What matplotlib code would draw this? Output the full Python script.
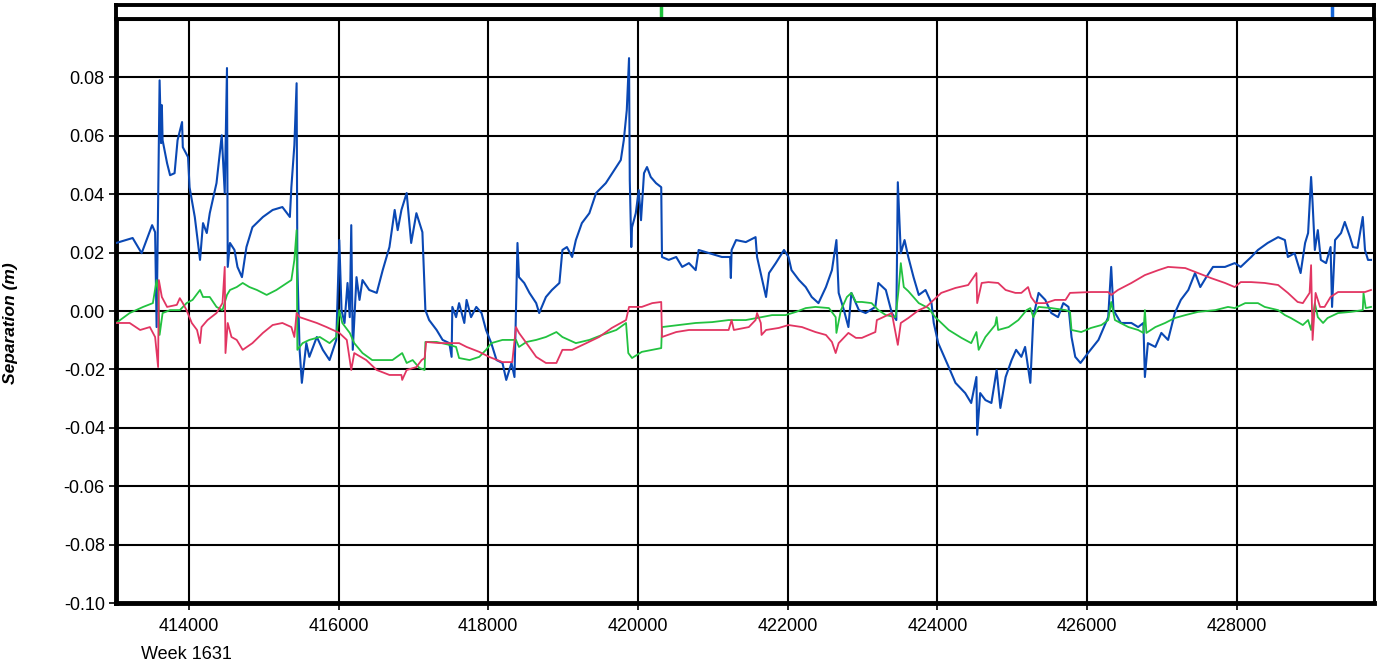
import numpy as np
import matplotlib.pyplot as plt

plt.rcParams["font.family"] = ["Liberation Sans", "DejaVu Sans"]

# seconds of GPS week 1631 and separation (m)
blue_t = [
    413030, 413250, 413370, 413510, 413550, 413570, 413610, 413630, 413640, 413650,
    413710, 413750, 413810, 413850, 413910, 413920, 413990, 414010, 414080, 414150,
    414190, 414240, 414280, 414370, 414440, 414480, 414510, 414520, 414550, 414610,
    414650, 414710, 414770, 414850, 414990, 415120, 415250, 415350, 415370, 415410,
    415440, 415450, 415480, 415510, 415570, 415610, 415710, 415790, 415880, 415970,
    416010, 416040, 416080, 416120, 416150, 416170, 416190, 416240, 416280, 416320,
    416410, 416510, 416590, 416680, 416750, 416790, 416840, 416910, 416970, 417040,
    417120, 417160, 417210, 417310, 417390, 417480, 417510, 417520, 417570, 417610,
    417680, 417710, 417770, 417840, 417910, 417970, 418040, 418110, 418190, 418240,
    418310, 418350, 418390, 418410, 418480, 418550, 418640, 418680, 418770, 418850,
    418950, 418990, 419050, 419120, 419170, 419250, 419350, 419440, 419570, 419710,
    419770, 419810, 419850, 419880, 419890, 419910, 419920, 419970, 420010, 420040,
    420080, 420120, 420170, 420240, 420310, 420320, 420410, 420510, 420590, 420680,
    420770, 420810, 420950, 421120, 421230, 421240, 421250, 421310, 421440, 421570,
    421590, 421650, 421710, 421750, 421840, 421950, 422010, 422050, 422150, 422240,
    422320, 422410, 422510, 422590, 422650, 422680, 422750, 422810, 422850, 422950,
    423040, 423170, 423210, 423310, 423390, 423450, 423470, 423510, 423560, 423610,
    423680, 423750, 423840, 423920, 423950, 424010, 424150, 424240, 424370, 424450,
    424520, 424530, 424570, 424640, 424720, 424790, 424840, 424910, 424990, 425050,
    425120, 425170, 425240, 425250, 425280, 425350, 425440, 425520, 425610, 425680,
    425750, 425790, 425840, 425910, 426010, 426150, 426280, 426320, 426350, 426450,
    426590, 426680, 426750, 426770, 426810, 426910, 426990, 427080, 427170, 427250,
    427350, 427440, 427510, 427590, 427680, 427840, 427970, 428050, 428190, 428280,
    428410, 428550, 428640, 428680, 428770, 428850, 428910, 428950, 428990, 429010,
    429040, 429080, 429120, 429190, 429250, 429270, 429310, 429390, 429440, 429510,
    429550, 429610, 429680, 429710, 429750, 429790,
]
blue_sep = [
    0.0233, 0.0250, 0.0198, 0.0294, 0.0270, -0.0055, 0.0790, 0.0575, 0.0705, 0.0585,
    0.0506, 0.0465, 0.0472, 0.0585, 0.0647, 0.0561, 0.0527, 0.0424, 0.0322, 0.0175,
    0.0301, 0.0267, 0.0335, 0.0438, 0.0602, 0.0404, 0.0832, 0.0151, 0.0233, 0.0209,
    0.0151, 0.0116, 0.0219, 0.0287, 0.0322, 0.0346, 0.0356, 0.0322, 0.0424, 0.0568,
    0.0780, 0.0151, -0.0133, -0.0246, -0.0110, -0.0157, -0.0089, -0.0133, -0.0168, -0.0099,
    0.0243, 0.0003, -0.0041, 0.0096, -0.0021, 0.0294, -0.0133, 0.0116, 0.0038, 0.0106,
    0.0072, 0.0062, 0.0140, 0.0219, 0.0346, 0.0277, 0.0346, 0.0404, 0.0233, 0.0335,
    0.0270, 0.0003, -0.0031, -0.0065, -0.0099, -0.0110, -0.0157, 0.0014, -0.0021, 0.0027,
    -0.0041, 0.0038, -0.0021, 0.0014, -0.0007, -0.0065, -0.0110, -0.0168, -0.0178, -0.0236,
    -0.0178, -0.0226, 0.0233, 0.0116, 0.0096, 0.0062, 0.0027, -0.0007, 0.0048, 0.0072,
    0.0096, 0.0209, 0.0219, 0.0185, 0.0243, 0.0301, 0.0335, 0.0404, 0.0438, 0.0493,
    0.0517, 0.0585, 0.0688, 0.0866, 0.0448, 0.0219, 0.0287, 0.0335, 0.0414, 0.0311,
    0.0472, 0.0493, 0.0459, 0.0438, 0.0424, 0.0185, 0.0175, 0.0185, 0.0151, 0.0164,
    0.0140, 0.0209, 0.0198, 0.0185, 0.0185, 0.0113, 0.0209, 0.0243, 0.0236, 0.0253,
    0.0185, 0.0116, 0.0048, 0.0130, 0.0164, 0.0209, 0.0185, 0.0140, 0.0106, 0.0082,
    0.0048, 0.0027, 0.0082, 0.0140, 0.0243, 0.0062, 0.0003, -0.0055, 0.0062, 0.0003,
    -0.0007, 0.0014, 0.0096, 0.0072, -0.0007, -0.0031, 0.0441, 0.0198, 0.0243, 0.0185,
    0.0116, 0.0055, 0.0072, 0.0027, -0.0041, -0.0110, -0.0192, -0.0246, -0.0281, -0.0315,
    -0.0226, -0.0424, -0.0281, -0.0305, -0.0315, -0.0202, -0.0332, -0.0226, -0.0168, -0.0133,
    -0.0157, -0.0123, -0.0246, -0.0192, -0.0021, 0.0062, 0.0038, -0.0007, -0.0021, 0.0027,
    0.0014, -0.0089, -0.0157, -0.0178, -0.0144, -0.0099, -0.0021, 0.0151, 0.0003, -0.0041,
    -0.0041, -0.0055, -0.0041, -0.0226, -0.0110, -0.0123, -0.0075, -0.0099, -0.0007, 0.0038,
    0.0072, 0.0130, 0.0082, 0.0116, 0.0151, 0.0151, 0.0164, 0.0151, 0.0185, 0.0209,
    0.0233, 0.0253, 0.0243, 0.0185, 0.0198, 0.0130, 0.0233, 0.0267, 0.0459, 0.0370,
    0.0209, 0.0277, 0.0175, 0.0164, 0.0219, 0.0014, 0.0243, 0.0267, 0.0305, 0.0253,
    0.0219, 0.0216, 0.0322, 0.0209, 0.0175, 0.0175,
]

green_t = [
    413030, 413210, 413390, 413520, 413570, 413590, 413610, 413650, 413750, 413880,
    413970, 414050, 414150, 414190, 414280, 414370, 414450, 414510, 414550, 414640,
    414720, 414810, 414910, 415040, 415170, 415310, 415370, 415410, 415440, 415450,
    415520, 415610, 415750, 415880, 415970, 416010, 416050, 416150, 416210, 416320,
    416450, 416590, 416720, 416850, 416910, 416990, 417080, 417150, 417160, 417310,
    417480, 417570, 417610, 417750, 417880, 417970, 418040, 418190, 418370, 418410,
    418510, 418640, 418770, 418910, 418990, 419170, 419350, 419520, 419710, 419840,
    419870, 419920, 420050, 420310, 420320, 420550, 420770, 420990, 421210, 421440,
    421590, 421650, 421790, 421970, 422110, 422240, 422370, 422550, 422640, 422650,
    422710, 422790, 422850, 422910, 422990, 423120, 423210, 423310, 423440, 423480,
    423510, 423550, 423610, 423750, 423880, 423970, 424150, 424320, 424450, 424520,
    424550, 424640, 424770, 424790, 424810, 424950, 425080, 425190, 425240, 425280,
    425350, 425520, 425710, 425770, 425790, 425920, 426050, 426190, 426280, 426320,
    426370, 426550, 426680, 426750, 426770, 426790, 426910, 427040, 427170, 427310,
    427480, 427710, 427880, 427970, 428110, 428280, 428370, 428550, 428640, 428720,
    428880, 428950, 428990, 429040, 429080, 429150, 429210, 429350, 429520, 429680,
    429690, 429720, 429790,
]
green_sep = [
    -0.0041, -0.0007, 0.0014, 0.0027, 0.0106, 0.0072, -0.0082, -0.0007, 0.0003, 0.0003,
    0.0027, 0.0038, 0.0072, 0.0048, 0.0048, 0.0014, 0.0003, 0.0055, 0.0072, 0.0082,
    0.0096, 0.0082, 0.0072, 0.0055, 0.0072, 0.0096, 0.0106, 0.0175, 0.0277, -0.0133,
    -0.0110, -0.0099, -0.0089, -0.0110, -0.0089, 0.0003, -0.0041, -0.0075, -0.0110, -0.0144,
    -0.0168, -0.0168, -0.0168, -0.0144, -0.0178, -0.0168, -0.0195, -0.0202, -0.0106, -0.0106,
    -0.0116, -0.0123, -0.0161, -0.0168, -0.0157, -0.0133, -0.0110, -0.0099, -0.0099, -0.0123,
    -0.0106, -0.0099, -0.0089, -0.0072, -0.0089, -0.0110, -0.0099, -0.0082, -0.0065, -0.0041,
    -0.0144, -0.0161, -0.0140, -0.0127, -0.0055, -0.0048, -0.0041, -0.0038, -0.0031, -0.0031,
    -0.0024, -0.0021, -0.0014, -0.0014, -0.0003, 0.0010, 0.0014, 0.0010, -0.0021, -0.0075,
    0.0003, 0.0048, 0.0062, 0.0031, 0.0031, 0.0027, 0.0003, -0.0014, -0.0021, 0.0072,
    0.0164, 0.0082, 0.0068, 0.0027, 0.0010, -0.0021, -0.0065, -0.0092, -0.0110, -0.0072,
    -0.0133, -0.0089, -0.0048, -0.0021, -0.0065, -0.0055, -0.0031, 0.0003, 0.0010, -0.0021,
    0.0014, 0.0010, 0.0003, -0.0003, -0.0065, -0.0072, -0.0058, -0.0048, -0.0031, 0.0031,
    -0.0031, -0.0055, -0.0065, -0.0075, 0.0003, -0.0075, -0.0055, -0.0041, -0.0024, -0.0014,
    -0.0003, 0.0003, 0.0014, 0.0010, 0.0027, 0.0027, 0.0014, 0.0003, -0.0014, -0.0024,
    -0.0048, -0.0031, -0.0065, 0.0027, -0.0021, -0.0041, -0.0024, -0.0007, -0.0003, 0.0003,
    0.0062, 0.0010, 0.0014,
]

red_t = [
    413030, 413210, 413350, 413480, 413550, 413590, 413600, 413640, 413710, 413840,
    413880, 413920, 413970, 414040, 414110, 414150, 414170, 414250, 414370, 414450,
    414480, 414490, 414520, 414570, 414640, 414720, 414850, 414990, 415120, 415250,
    415370, 415410, 415440, 415480, 415710, 415840, 416010, 416110, 416170, 416210,
    416370, 416510, 416680, 416840, 416850, 416910, 417040, 417110, 417150, 417170,
    417350, 417520, 417610, 417710, 417880, 418010, 418190, 418320, 418370, 418410,
    418510, 418640, 418770, 418910, 418990, 419120, 419310, 419480, 419650, 419840,
    419880, 420050, 420190, 420310, 420320, 420510, 420680, 421040, 421210, 421250,
    421280, 421480, 421570, 421590, 421640, 421650, 421710, 421880, 422010, 422190,
    422370, 422510, 422590, 422640, 422680, 422810, 422910, 422990, 423170, 423190,
    423250, 423390, 423470, 423510, 423610, 423750, 423850, 423920, 424050, 424240,
    424410, 424520, 424530, 424590, 424680, 424810, 424910, 425040, 425120, 425210,
    425250, 425310, 425440, 425570, 425710, 425770, 426050, 426280, 426320, 426410,
    426590, 426770, 426950, 427080, 427310, 427480, 427650, 427840, 427970, 428050,
    428190, 428370, 428550, 428680, 428810, 428880, 428970, 428990, 429010, 429050,
    429110, 429170, 429250, 429350, 429520, 429710, 429790,
]
red_sep = [
    -0.0041, -0.0041, -0.0065, -0.0055, -0.0089, -0.0192, 0.0106, 0.0048, 0.0014, 0.0021,
    0.0044, 0.0027, 0.0003, -0.0041, -0.0065, -0.0110, -0.0055, -0.0031, -0.0007, 0.0027,
    0.0151, -0.0144, -0.0041, -0.0089, -0.0099, -0.0133, -0.0110, -0.0075, -0.0048, -0.0041,
    -0.0055, -0.0089, -0.0007, -0.0021, -0.0041, -0.0055, -0.0075, -0.0099, -0.0202, -0.0144,
    -0.0168, -0.0202, -0.0219, -0.0219, -0.0236, -0.0202, -0.0192, -0.0168, -0.0161, -0.0106,
    -0.0110, -0.0110, -0.0110, -0.0123, -0.0140, -0.0157, -0.0175, -0.0175, -0.0055, -0.0075,
    -0.0110, -0.0157, -0.0178, -0.0178, -0.0133, -0.0133, -0.0110, -0.0089, -0.0058, -0.0031,
    0.0014, 0.0014, 0.0027, 0.0031, -0.0089, -0.0072, -0.0065, -0.0065, -0.0065, -0.0031,
    -0.0065, -0.0055, -0.0031, -0.0007, -0.0041, -0.0082, -0.0065, -0.0058, -0.0048, -0.0055,
    -0.0072, -0.0082, -0.0106, -0.0144, -0.0110, -0.0075, -0.0092, -0.0092, -0.0072, -0.0031,
    -0.0024, -0.0007, -0.0116, -0.0041, -0.0024, 0.0003, 0.0014, 0.0031, 0.0062, 0.0079,
    0.0089, 0.0130, 0.0027, 0.0096, 0.0099, 0.0096, 0.0072, 0.0062, 0.0062, 0.0082,
    0.0048, 0.0027, 0.0027, 0.0038, 0.0038, 0.0062, 0.0065, 0.0065, 0.0055, 0.0072,
    0.0096, 0.0123, 0.0140, 0.0151, 0.0147, 0.0130, 0.0113, 0.0096, 0.0082, 0.0099,
    0.0099, 0.0096, 0.0089, 0.0062, 0.0031, 0.0027, 0.0062, 0.0157, -0.0099, 0.0062,
    0.0014, 0.0014, 0.0048, 0.0065, 0.0065, 0.0065, 0.0072,
]

# event markers shown in the strip above the plot
event_t = [420310, 429270]
event_colors = ["#1ec23c", "#1565d8"]

x_ticks = [414000, 416000, 418000, 420000, 422000, 424000, 426000, 428000]
y_ticks = [-0.10, -0.08, -0.06, -0.04, -0.02, 0.00, 0.02, 0.04, 0.06, 0.08]

x_min, x_max = 413027, 429830

fig = plt.figure(figsize=(13.82, 6.71), dpi=100)
ax = fig.add_axes([0.0839, 0.1013, 0.9103, 0.8704])
strip = fig.add_axes([0.0839, 0.9717, 0.9103, 0.0209])

ax.plot(blue_t, blue_sep, color="#0a48b4", lw=1.5, zorder=3)
ax.plot(green_t, green_sep, color="#22c240", lw=1.3, zorder=4)
ax.plot(red_t, red_sep, color="#e23562", lw=1.3, zorder=5)

ax.set_xlim(x_min, x_max)
ax.set_ylim(-0.10, 0.10)
ax.set_xticks(x_ticks)
ax.set_xticklabels([str(t) for t in x_ticks])
ax.set_yticks(y_ticks)
ax.set_yticklabels(["%.2f" % v for v in y_ticks])
ax.grid(True, color="black", lw=1.5)
ax.set_axisbelow(True)
ax.tick_params(axis="both", direction="out", length=5, width=1.2, labelsize=13, pad=3)
ax.tick_params(axis="x", pad=6)

for side in ["left", "bottom"]:
    ax.spines[side].set_linewidth(3.5)
for side in ["top", "right"]:
    ax.spines[side].set_linewidth(2.2)

ax.set_ylabel("Separation (m)", fontsize=12.5, fontweight="bold", fontstyle="italic")
ax.yaxis.set_label_coords(-0.078, 0.48)
ax.annotate("Week 1631", xy=(414000, 0), xycoords=("data", "axes fraction"),
            xytext=(-2, -31), textcoords="offset points", ha="center", va="top", fontsize=13)

strip.set_xlim(x_min, x_max)
strip.set_ylim(0, 1)
strip.vlines(event_t, 0.1, 0.9, colors=event_colors, lw=2.5)
strip.set_xticks([])
strip.set_yticks([])
for side in strip.spines:
    strip.spines[side].set_linewidth(2.8)

fig.savefig("out.png", dpi=100)
